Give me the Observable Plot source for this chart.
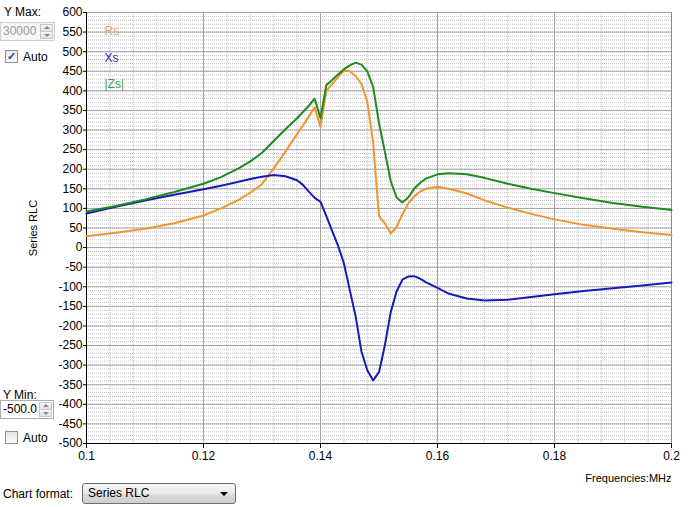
<!DOCTYPE html>
<html><head><meta charset="utf-8">
<script src="https://cdn.jsdelivr.net/npm/d3@7"></script>
<script src="https://cdn.jsdelivr.net/npm/@observablehq/plot@0.6"></script>
<style>
html,body{margin:0;padding:0;background:#fff;}
#wrap{position:relative;width:689px;height:507px;overflow:hidden;font-family:"Liberation Sans",Arial,sans-serif;font-size:12px;color:#000;background:#fff;}
#chart{position:absolute;left:0;top:0;}
.lbl{position:absolute;white-space:nowrap;line-height:14px;}
.num{position:absolute;box-sizing:border-box;border:1px solid #abadb3;background:#fff;line-height:16px;padding-left:2px;white-space:nowrap;}
.num.dis{border-color:#cfcfcf;color:#9a9a9a;background:#f7f7f7;}
.sp{position:absolute;right:1px;width:13px;box-sizing:border-box;border:1px solid #c8c8c8;background:linear-gradient(#f6f6f6,#e2e2e2);}
.sp.up{top:1px;height:8px;}
.sp.dn{bottom:1px;height:8px;}
.tri{position:absolute;left:3px;width:0;height:0;border-left:3px solid transparent;border-right:3px solid transparent;}
.tri.u{top:1px;border-bottom:3px solid #7a8aa0;}
.tri.d{top:2px;border-top:3px solid #7a8aa0;}
.chk{position:absolute;width:13px;height:13px;box-sizing:border-box;border:1px solid #8e8f8f;background:linear-gradient(#e8e8e8,#fbfbfb);font-size:11px;line-height:11px;text-align:center;color:#2a3f8e;font-weight:bold;}
.combo{position:absolute;box-sizing:border-box;border:1px solid #707070;border-radius:3px;background:linear-gradient(#f2f2f2 0%,#ebebeb 50%,#dddddd 51%,#cfcfcf 100%);line-height:19px;padding-left:5px;}
.arrow{position:absolute;right:7px;top:8px;width:0;height:0;border-left:4px solid transparent;border-right:4px solid transparent;border-top:4px solid #000;}
</style></head><body>
<div id="wrap">
  <div id="chart"></div>
  <div class="lbl" style="left:4px;top:5px">Y Max:</div>
  <div class="num dis" style="left:0px;top:22px;width:55px;height:19px">30000
    <div class="sp up"><div class="tri u"></div></div><div class="sp dn"><div class="tri d"></div></div>
  </div>
  <div class="chk" style="left:5px;top:50px">✓</div>
  <div class="lbl" style="left:23px;top:50px">Auto</div>
  <div class="lbl" style="left:3px;top:388px">Y Min:</div>
  <div class="num" style="left:0px;top:400px;width:54px;height:19px">-500.0
    <div class="sp up"><div class="tri u"></div></div><div class="sp dn"><div class="tri d"></div></div>
  </div>
  <div class="chk" style="left:5px;top:431px"></div>
  <div class="lbl" style="left:23px;top:431px">Auto</div>
  <div class="lbl" style="left:3px;top:487px">Chart format:</div>
  <div class="combo" style="left:82px;top:483px;width:154px;height:21px">Series RLC<div class="arrow"></div></div>
</div>
<script>
// Frequency sweep (MHz)
const freq = [0.100,0.105,0.110,0.115,0.120,0.123,0.126,0.128,0.130,0.132,0.134,0.136,0.137,0.138,0.139,0.140,0.141,0.142,0.143,0.144,0.145,0.146,0.147,0.148,0.149,0.150,0.151,0.152,0.153,0.154,0.155,0.156,0.157,0.158,0.160,0.162,0.165,0.168,0.172,0.176,0.180,0.185,0.190,0.195,0.200];
// Series resistance Rs
const rs = [29,38,48,62,82,100,122,140,162,202,245,290,312,335,358,308,400,418,435,452,450,438,418,372,268,80,62,36,52,85,112,130,143,150,155,150,138,121,102,86,72,58,48,39,32];
// Series reactance Xs
const xs = [87,104,120,135,149,158,168,175,181,185,182,172,160,143,127,117,80,42,5,-40,-108,-175,-265,-313,-339,-318,-250,-165,-112,-82,-74,-73,-79,-88,-103,-118,-130,-135,-133,-126,-119,-111,-104,-97,-89];
// Impedance magnitude |Zs|
const zs = [92,106,123,142,163,180,202,220,242,272,302,330,346,362,380,330,415,428,442,455,465,472,467,450,410,318,245,170,128,115,128,150,165,176,187,190,187,178,163,150,139,126,114,104,96];

const seriesNames = ["Rs","Xs","|Zs|"];
const seriesKeys = ["rs","xs","zs"];
const seriesColors = ["#f0962e","#1a1ab4","#1f8a1f"];
const legendColors = ["#f3a659","#2b2ba6","#47a047"];

const xTicks = [0.1,0.12,0.14,0.16,0.18,0.2];
const xTickLabels = ["0.1","0.12","0.14","0.16","0.18","0.2"];
const yTicks = [-500,-450,-400,-350,-300,-250,-200,-150,-100,-50,0,50,100,150,200,250,300,350,400,450,500,550,600];
const xLabel = "Frequencies:MHz";
const yLabel = "Series RLC";

const rows = freq.map((f, i) => ({f, rs: rs[i], xs: xs[i], zs: zs[i]}));
const minorX = d3.range(0, 26).map(i => 0.1 + i * 0.004);
const minorY = d3.range(-500, 601, 10);

const chart = Plot.plot({
  width: 689,
  height: 507,
  marginLeft: 86,
  marginRight: 18,
  marginTop: 12,
  marginBottom: 64,
  style: {fontFamily: "'Liberation Sans', Arial, sans-serif", fontSize: "12px", color: "#000", background: "transparent"},
  x: {domain: [0.1, 0.2]},
  y: {domain: [-500, 600]},
  marks: [
    Plot.ruleX(minorX, {stroke: "#c2c2c2", strokeDasharray: "1,1"}),
    Plot.ruleY(minorY, {stroke: "#c2c2c2", strokeDasharray: "1,1"}),
    Plot.ruleX(xTicks, {stroke: "#a4a4a4"}),
    Plot.ruleY(yTicks, {stroke: "#a4a4a4"}),
    Plot.ruleX([0.2], {stroke: "#e06a6a"}),
    Plot.axisX({ticks: xTicks, tickSize: 5, tickPadding: 3, tickFormat: d => xTickLabels[xTicks.indexOf(d)], label: null, fill: "#000", stroke: "#000"}),
    Plot.axisY({ticks: yTicks, tickSize: 3, tickPadding: 1, tickFormat: d => String(d), label: null, fill: "#000", stroke: "#000"}),
    Plot.ruleX([0.1], {stroke: "#000"}),
    Plot.ruleY([-500], {stroke: "#000"}),
    ...seriesKeys.map((k, i) => Plot.line(rows, {x: "f", y: k, stroke: seriesColors[i], strokeWidth: 2})),
    ...seriesNames.map((n, i) => Plot.text([n], {frameAnchor: "top-left", dx: 18, dy: 19 + i * 26.5, textAnchor: "start", lineAnchor: "middle", fill: legendColors[i], fontSize: 12})),
    Plot.text([xLabel], {frameAnchor: "bottom-right", dy: 35, textAnchor: "end", lineAnchor: "middle", fontSize: 11}),
    Plot.text([yLabel], {frameAnchor: "left", dx: -53, rotate: -90, textAnchor: "middle", lineAnchor: "middle", fontSize: 11})
  ]
});
document.getElementById("chart").appendChild(chart);
</script>
</body></html>
